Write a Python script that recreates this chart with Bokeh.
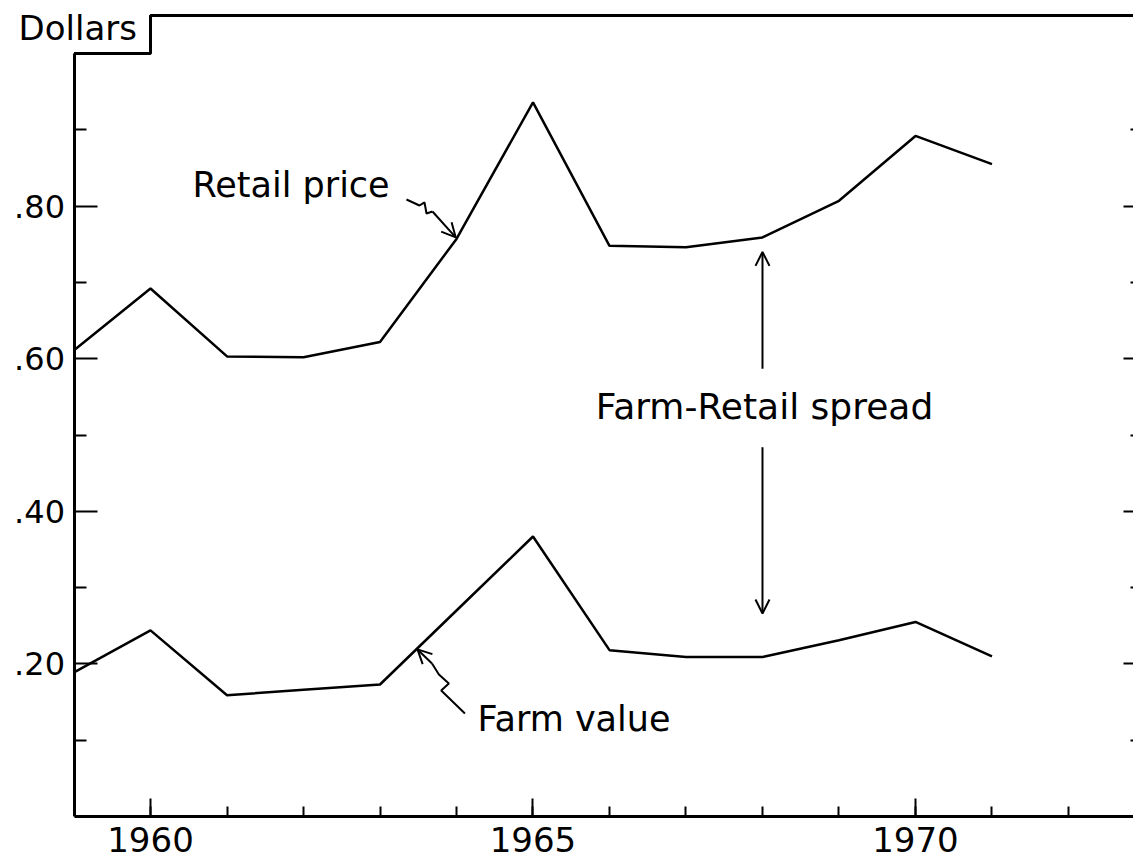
from bokeh.plotting import figure
from bokeh.models import (Range1d, FixedTicker, LinearAxis, Label, Arrow, OpenHead)
from bokeh.embed import file_html
from bokeh.resources import INLINE

# ---- data ----
years = [1959, 1960, 1961, 1962, 1963, 1964, 1965, 1966, 1967, 1968, 1969, 1970, 1971]
retail_price = [0.611, 0.692, 0.603, 0.602, 0.622, 0.757, 0.936, 0.748, 0.746, 0.759, 0.807, 0.892, 0.855]
farm_value = [0.189, 0.244, 0.159, 0.166, 0.173, 0.270, 0.367, 0.218, 0.209, 0.209, 0.231, 0.255, 0.210]

x_major_ticks = [1960, 1965, 1970]
x_minor_ticks = list(range(1959, 1974))
y_major_ticks = [0.2, 0.4, 0.6, 0.8]
y_minor_ticks = [0.1, 0.3, 0.5, 0.7, 0.9]
y_tick_labels = [".20", ".40", ".60", ".80"]

XA = 1959            # where the left axis sits
X0, X1 = 1958.039, 1972.850
Y0, Y1 = 0, 1.0695
FONT = "DejaVu Sans"

p = figure(width=1133, height=866, output_backend="svg", toolbar_location=None,
           x_range=Range1d(X0, X1), y_range=Range1d(Y0, Y1),
           min_border_left=0, min_border_right=0, min_border_top=0, min_border_bottom=50,
           x_axis_type=None, y_axis_type=None)
p.xgrid.visible = False
p.ygrid.visible = False
p.outline_line_color = None
p.background_fill_color = "white"
p.border_fill_color = "white"

# bottom axis
xa = LinearAxis(ticker=FixedTicker(ticks=x_major_ticks, minor_ticks=x_minor_ticks),
                major_label_overrides={t: str(t) for t in x_major_ticks},
                bounds=(XA, X1))
xa.axis_line_width = 3
xa.major_tick_in = 18
xa.major_tick_out = 0
xa.minor_tick_in = 10
xa.minor_tick_out = 0
xa.major_tick_line_width = 2
xa.minor_tick_line_width = 2
xa.major_label_text_font = FONT
xa.major_label_text_font_size = "34px"
xa.major_label_standoff = 10
xa.major_label_text_color = "black"
p.add_layout(xa, "below")

# left axis, drawn at 1959 inside the frame
ya = LinearAxis(ticker=FixedTicker(ticks=y_major_ticks, minor_ticks=y_minor_ticks),
                major_label_overrides=dict(zip(y_major_ticks, y_tick_labels)),
                bounds=(0, 1.0), fixed_location=XA)
ya.axis_line_width = 3
ya.major_tick_in = 23
ya.major_tick_out = 0
ya.minor_tick_in = 12
ya.minor_tick_out = 0
ya.major_tick_line_width = 2
ya.minor_tick_line_width = 2
ya.major_label_text_font = FONT
ya.major_label_text_font_size = "32px"
ya.major_label_standoff = 9
ya.major_label_text_color = "black"
p.add_layout(ya, "left")

# right axis (ticks only, its line lies just off the page)
ra = LinearAxis(ticker=FixedTicker(ticks=y_major_ticks, minor_ticks=y_minor_ticks),
                major_label_overrides={t: "" for t in y_major_ticks},
                fixed_location=X1)
ra.axis_line_color = None
ra.major_tick_in = 10
ra.major_tick_out = 0
ra.minor_tick_in = 3
ra.minor_tick_out = 0
ra.major_tick_line_width = 2
ra.minor_tick_line_width = 2
ra.major_label_text_font_size = "0px"
ra.major_label_standoff = 0
p.add_layout(ra, "right")

# stepped top frame with the "Dollars" box
p.line([XA, 1960, 1960, X1], [1.0, 1.0, 1.05, 1.05], line_color="black", line_width=3)
p.add_layout(Label(x=1958.275, y=1.033, text="Dollars", text_font=FONT,
                   text_font_size="34px", text_color="black", text_baseline="alphabetic"))

# series
p.line(years, retail_price, line_color="black", line_width=2.5)
p.line(years, farm_value, line_color="black", line_width=2.5)

# annotations
p.add_layout(Label(x=1960.549, y=0.828, text="Retail price", text_font=FONT,
                   text_font_size="35px", text_color="black", text_baseline="alphabetic"))
p.add_layout(Label(x=1964.275, y=0.128, text="Farm value", text_font=FONT,
                   text_font_size="35px", text_color="black", text_baseline="alphabetic"))
p.add_layout(Label(x=1965.82, y=0.537, text="Farm-Retail spread", text_font=FONT,
                   text_font_size="36px", text_color="black", text_baseline="alphabetic"))

# squiggly pointer for "Retail price"
rp_x = [1963.346, 1963.516, 1963.582, 1963.608, 1963.686]
rp_y = [0.8087, 0.8008, 0.8048, 0.7903, 0.7929]
p.line(rp_x, rp_y, line_color="black", line_width=2)
p.add_layout(Arrow(x_start=rp_x[-1], y_start=rp_y[-1], x_end=1963.99, y_end=0.759,
                   line_width=2, line_color="black",
                   end=OpenHead(size=14, line_width=2, line_color="black")))

# squiggly pointer for "Farm value"
fv_x = [1964.11, 1963.80, 1963.90, 1963.77, 1963.68]
fv_y = [0.1350, 0.1652, 0.1743, 0.1861, 0.2005]
p.line(fv_x, fv_y, line_color="black", line_width=2)
p.add_layout(Arrow(x_start=fv_x[-1], y_start=fv_y[-1], x_end=1963.49, y_end=0.219,
                   line_width=2, line_color="black",
                   end=OpenHead(size=14, line_width=2, line_color="black")))

# spread arrows
p.add_layout(Arrow(x_start=1968.0, y_start=0.587, x_end=1968.0, y_end=0.740,
                   line_width=2, line_color="black",
                   end=OpenHead(size=14, line_width=2, line_color="black")))
p.add_layout(Arrow(x_start=1968.0, y_start=0.484, x_end=1968.0, y_end=0.266,
                   line_width=2, line_color="black",
                   end=OpenHead(size=14, line_width=2, line_color="black")))

open("out.html", "w").write(file_html(p, INLINE))
